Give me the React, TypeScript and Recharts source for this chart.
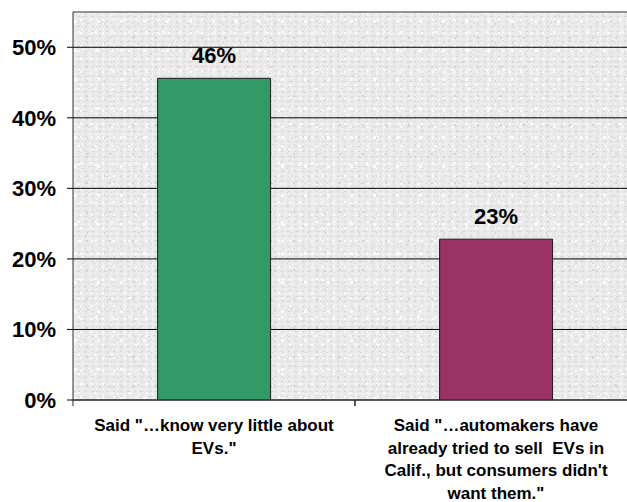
import { BarChart, Bar, XAxis, YAxis, CartesianGrid, ReferenceLine, LabelList, Cell } from 'recharts';

const categories = [
  'Said "…know very little about\nEVs."',
  'Said "…automakers have\nalready tried to sell  EVs in\nCalif., but consumers didn\'t\nwant them."',
];
const shares = [0.456, 0.228];
const barColors = ['#339966', '#993366'];
const yTicks = [0, 0.1, 0.2, 0.3, 0.4, 0.5];
const yMax = 0.55;

const data = categories.map((name, i) => ({ name, share: shares[i] }));

const FONT = '"Liberation Sans", Arial, Helvetica, sans-serif';

const pct = (v: number) => `${Math.round(v * 100)}%`;

function CategoryTick(props: any) {
  const { x, y, payload } = props;
  const lines = String(payload.value).split('\n');
  const half = payload.offset ?? 0;
  return (
    <g>
      {half > 0 && (
        <>
          <line x1={x - half} x2={x - half} y1={y - 6} y2={y} stroke="#222" />
          <line x1={x + half} x2={x + half} y1={y - 6} y2={y} stroke="#222" />
        </>
      )}
      <text
        x={x}
        y={y + 25}
        textAnchor="middle"
        fontFamily={FONT}
        fontWeight="bold"
        fontSize={17}
        fill="#000"
        style={{ whiteSpace: 'pre' }}
      >
        {lines.map((line, i) => (
          <tspan key={i} x={x} dy={i === 0 ? 0 : 22.6}>
            {line}
          </tspan>
        ))}
      </text>
    </g>
  );
}

// granite-like speckle texture made of overlapping small tiles
function GraniteDefs() {
  return (
    <defs>
      <pattern id="gA" patternUnits="userSpaceOnUse" width="7" height="5">
        <rect x="1" y="1" width="2" height="1" fill="#d6d6d6" />
        <rect x="5" y="3" width="1" height="2" fill="#f8f8f8" />
      </pattern>
      <pattern id="gB" patternUnits="userSpaceOnUse" width="11" height="13">
        <rect x="3" y="6" width="2" height="2" fill="#fbfbfb" />
        <rect x="8" y="1" width="1" height="1" fill="#cfcfcf" />
        <rect x="0" y="10" width="2" height="1" fill="#dadada" />
      </pattern>
      <pattern id="gC" patternUnits="userSpaceOnUse" width="17" height="19">
        <rect x="9" y="12" width="3" height="2" fill="#f7f7f7" />
        <rect x="2" y="4" width="1" height="2" fill="#d2d2d2" />
        <rect x="14" y="16" width="2" height="1" fill="#d8d8d8" />
      </pattern>
      <pattern id="gD" patternUnits="userSpaceOnUse" width="23" height="29">
        <rect x="5" y="20" width="3" height="3" fill="#fafafa" />
        <rect x="17" y="8" width="2" height="2" fill="#d4d4d4" />
      </pattern>
      <pattern id="granite" patternUnits="userSpaceOnUse" width="2000" height="2000">
        <rect width="2000" height="2000" fill="#eaeaea" />
        <rect width="2000" height="2000" fill="url(#gA)" />
        <rect width="2000" height="2000" fill="url(#gB)" />
        <rect width="2000" height="2000" fill="url(#gC)" />
        <rect width="2000" height="2000" fill="url(#gD)" />
      </pattern>
    </defs>
  );
}

export default function App() {
  return (
    <div style={{ position: 'absolute', left: 0, top: 0, width: 627, height: 502, overflow: 'hidden', background: '#fff' }}>
      <BarChart
        width={640}
        height={502}
        data={data}
        margin={{ top: 12, right: 3, left: 0, bottom: 0 }}
        barCategoryGap="30%"
      >
        {GraniteDefs()}
        <CartesianGrid vertical={false} stroke="#000" fill="url(#granite)" fillOpacity={1} />
        <ReferenceLine y={yMax} stroke="#9a9a9a" strokeWidth={1.5} />
        <XAxis
          dataKey="name"
          height={102}
          interval={0}
          tickLine={false}
          tickSize={6}
          tickMargin={0}
          axisLine={{ stroke: '#333' }}
          tick={<CategoryTick />}
        />
        <YAxis
          width={73}
          domain={[0, yMax]}
          ticks={yTicks}
          tickFormatter={pct}
          tickSize={6}
          tickMargin={11}
          axisLine={{ stroke: '#333' }}
          tickLine={{ stroke: '#000' }}
          tick={{ fontSize: 22, fontWeight: 'bold', fill: '#000', fontFamily: FONT }}
          allowDataOverflow
        />
        <Bar dataKey="share" stroke="#1a1a1a" strokeWidth={1} isAnimationActive={false}>
          {data.map((_, i) => (
            <Cell key={`cell-${i}`} fill={barColors[i]} />
          ))}
          <LabelList
            dataKey="share"
            position="top"
            offset={15}
            formatter={(v: any) => pct(Number(v))}
            style={{ fontSize: 22, fontWeight: 'bold', fill: '#000', fontFamily: FONT }}
          />
        </Bar>
      </BarChart>
    </div>
  );
}
